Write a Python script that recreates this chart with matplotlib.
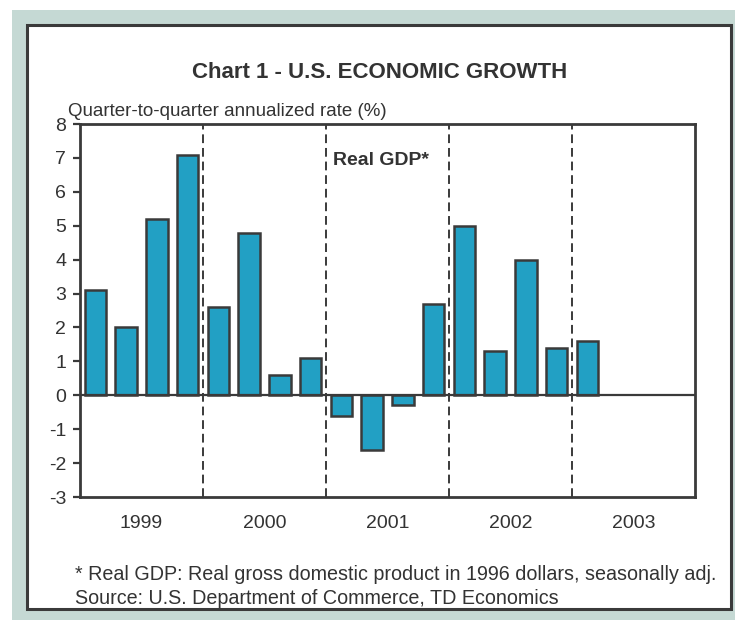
import numpy as np
import matplotlib
matplotlib.use("Agg")
import matplotlib.pyplot as plt
from matplotlib.patches import Rectangle

# quarterly real GDP growth, 1999Q1 .. 2003Q1
gdp = [3.1, 2.0, 5.2, 7.1,
       2.6, 4.8, 0.6, 1.1,
       -0.6, -1.6, -0.3, 2.7,
       5.0, 1.3, 4.0, 1.4,
       1.6]
years = ['1999', '2000', '2001', '2002', '2003']
n_quarters = 4 * len(years)

bar_color = '#22A0C4'
dark = '#3a3a3a'
text_color = '#333333'

plt.rc('font', family=['Liberation Sans', 'DejaVu Sans'])
plt.rc('axes', unicode_minus=False)

fig = plt.figure(figsize=(7.35, 6.2), dpi=100)
fig.set_facecolor('white')

# outer frame
fig.add_artist(Rectangle((12 / 735, 0), 1, 1 - 10 / 620, transform=fig.transFigure,
                         facecolor='#C5D9D4', edgecolor='none', zorder=-3))
fig.add_artist(Rectangle((27 / 735, 11 / 620), (731 - 27) / 735, (609 - 25) / 620,
                         transform=fig.transFigure, facecolor='white',
                         edgecolor=dark, linewidth=2.2, zorder=-2))

ax = fig.add_axes([80 / 735, 1 - 497 / 620, (695 - 80) / 735, (497 - 124) / 620])

x = np.arange(len(gdp)) + 0.5
ax.bar(x, gdp, width=0.7, color=bar_color, edgecolor=dark, linewidth=1.8, zorder=3)

ax.axhline(0, color=dark, linewidth=1.6, zorder=4)
for b in range(4, n_quarters, 4):
    ax.axvline(b, color=dark, linestyle=(0, (4.5, 2.5)), linewidth=1.4, zorder=2)

ax.set_xlim(0, n_quarters)
ax.set_ylim(-3, 8)
ax.set_yticks(np.arange(-3, 9, 1))
ax.set_xticks([])
ax.tick_params(axis='y', direction='out', length=5, width=1.6, color=dark,
               labelsize=14, labelcolor=text_color, pad=5)
for s in ax.spines.values():
    s.set_color(dark)
    s.set_linewidth(2.0)

for i, yr in enumerate(years):
    ax.text(4 * i + 2, -3.78, yr, ha='center', va='center', fontsize=14,
            color=text_color)

ax.text(8.23, 6.93, 'Real GDP*', ha='left', va='center', fontsize=14,
        fontweight='bold', color=text_color)

fig.text(0.517, 1 - 73 / 620, 'Chart 1 - U.S. ECONOMIC GROWTH', ha='center',
         va='center', fontsize=16, fontweight='bold', color=text_color)
fig.text(68 / 735, 1 - 112 / 620, 'Quarter-to-quarter annualized rate (%)',
         ha='left', va='center', fontsize=13.5, color=text_color)
fig.text(75 / 735, 1 - 575 / 620,
         '* Real GDP: Real gross domestic product in 1996 dollars, seasonally adj.',
         ha='left', va='center', fontsize=14.2, color=text_color)
fig.text(75 / 735, 1 - 598 / 620, 'Source: U.S. Department of Commerce, TD Economics',
         ha='left', va='center', fontsize=14.2, color=text_color)

fig.savefig('out.png', dpi=100)
